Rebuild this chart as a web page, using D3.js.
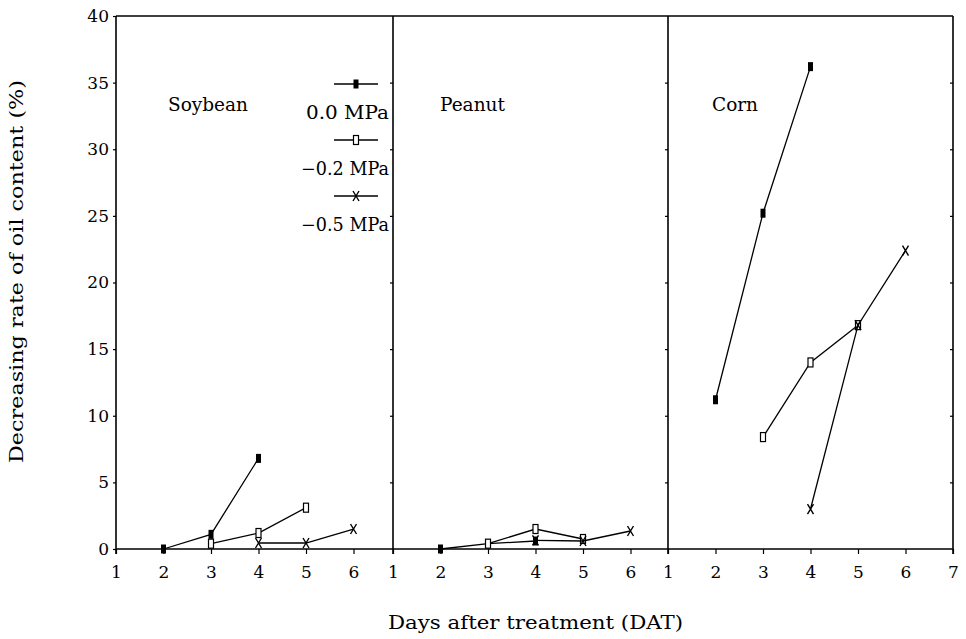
<!DOCTYPE html>
<html>
<head>
<meta charset="utf-8">
<script src="https://cdn.jsdelivr.net/npm/d3@7"></script>
<style>
  html, body { margin: 0; padding: 0; background: #fff; }
  text { font-family: "DejaVu Serif", "Liberation Serif", serif; fill: #000; }
</style>
</head>
<body>
<svg id="chart" width="966" height="639"></svg>
<script>
// ---------------- DATA ----------------
const crops = ["Soybean", "Peanut", "Corn"];
const seriesNames = ["0.0 MPa", "\u22120.2 MPa", "\u22120.5 MPa"];
const yTicks = [0, 5, 10, 15, 20, 25, 30, 35, 40];
const xTickDays = [1, 2, 3, 4, 5, 6, 7];

const days_00 = [2, 3, 4];
const days_02 = [3, 4, 5];
const days_05 = [4, 5, 6];

const soybean_00 = [0, 1.1, 6.8];
const soybean_02 = [0.4, 1.2, 3.1];
const soybean_05 = [0.45, 0.45, 1.5];

const peanut_00 = [0, 0.4, 0.6];
const peanut_02 = [0.4, 1.5, 0.75];
const peanut_05 = [0.65, 0.6, 1.35];

const corn_00 = [11.2, 25.2, 36.2];
const corn_02 = [8.4, 14.0, 16.8];
const corn_05 = [3.0, 16.8, 22.4];

// ---------------- LAYOUT ----------------
const svg = d3.select("#chart");
const topY = 16, bottomY = 549, rightEdge = 953;
const panelLeft = [116, 393, 668];
const dayW = 47.5;
const y = d3.scaleLinear().domain([0, 40]).range([bottomY, topY]);
const xs = panelLeft.map(l => d3.scaleLinear().domain([1, 7]).range([l, l + 6 * dayW]));
const panelRight = [393, 668, rightEdge];

const dataSets = [
  [soybean_00, soybean_02, soybean_05],
  [peanut_00, peanut_02, peanut_05],
  [corn_00, corn_02, corn_05]
];
const dayArrays = [days_00, days_02, days_05];
const markerTypes = ["filled", "open", "cross"];

function drawMarker(g, type, cx, cy) {
  if (type === "filled") {
    g.append("rect").attr("x", cx - 2.5).attr("y", cy - 4.5).attr("width", 5).attr("height", 9)
      .attr("fill", "#000");
  } else if (type === "open") {
    g.append("rect").attr("x", cx - 2.5).attr("y", cy - 4.5).attr("width", 5).attr("height", 9)
      .attr("fill", "#fff").attr("stroke", "#000").attr("stroke-width", 1.2);
  } else {
    g.append("path").attr("d", `M${cx-3},${cy-5}L${cx+3},${cy+5}M${cx+3},${cy-5}L${cx-3},${cy+5}`)
      .attr("stroke", "#000").attr("stroke-width", 1.4).attr("fill", "none");
  }
}

// frame
const frame = svg.append("g").attr("stroke", "#000").attr("fill", "none");
frame.append("line").attr("x1", panelLeft[0]).attr("x2", rightEdge).attr("y1", topY).attr("y2", topY).attr("stroke-width", 1.6);
frame.append("line").attr("x1", panelLeft[0]).attr("x2", rightEdge).attr("y1", bottomY).attr("y2", bottomY).attr("stroke-width", 1.6);
frame.append("line").attr("x1", panelLeft[0]).attr("x2", panelLeft[0]).attr("y1", topY).attr("y2", bottomY + 5).attr("stroke-width", 1.6);
[393, 668, rightEdge].forEach(xv => {
  frame.append("line").attr("x1", xv).attr("x2", xv).attr("y1", topY).attr("y2", bottomY + 5).attr("stroke-width", 1.6);
});

// y axis (left)
const yAxis = d3.axisLeft(y).tickValues(yTicks).tickSize(3).tickPadding(4).tickFormat(d3.format("d"));
const yg = svg.append("g").attr("transform", `translate(${panelLeft[0]},0)`).call(yAxis);
yg.select(".domain").remove();
yg.selectAll("line").attr("stroke-width", 1.2);
yg.selectAll("text").style("font-family", "DejaVu Serif").style("font-size", "17px").attr("fill", "#000");

// divider ticks
[393, 668, rightEdge].forEach(xv => {
  const g = svg.append("g").attr("transform", `translate(${xv},0)`)
    .call(d3.axisLeft(y).tickValues(yTicks.slice(1, -1)).tickSize(3).tickFormat(""));
  g.select(".domain").remove();
  g.selectAll("line").attr("stroke-width", 1.2);
});

// x axes
crops.forEach((c, i) => {
  const ticks = xTickDays.filter(d => xs[i](d) <= panelRight[i] + 1);
  const ax = d3.axisBottom(xs[i]).tickValues(ticks).tickSize(5).tickPadding(12).tickFormat(d3.format("d"));
  const g = svg.append("g").attr("transform", `translate(0,${bottomY})`).call(ax);
  g.select(".domain").remove();
  g.selectAll("line").attr("stroke-width", 1.2);
  g.selectAll("text").style("font-family", "DejaVu Serif").style("font-size", "17px").attr("fill", "#000");
});

// crop labels
const cropLabelX = [168, 440, 712];
const cropLabelW = [80, 65, 46];
crops.forEach((c, i) => {
  svg.append("text").attr("x", cropLabelX[i]).attr("y", 111).style("font-size", "18px")
    .attr("textLength", cropLabelW[i]).attr("lengthAdjust", "spacingAndGlyphs").text(c);
});

// series
const line = d3.line();
dataSets.forEach((set, pi) => {
  set.forEach((vals, si) => {
    const pts = vals.map((v, k) => [xs[pi](dayArrays[si][k]), y(v)]);
    svg.append("path").attr("d", line(pts)).attr("fill", "none").attr("stroke", "#000").attr("stroke-width", 1.3);
    const mg = svg.append("g");
    pts.forEach(p => drawMarker(mg, markerTypes[si], p[0], p[1]));
  });
});

// legend
const legY = [84, 140, 196];
const legW = [83, 88, 88];
seriesNames.forEach((n, i) => {
  svg.append("line").attr("x1", 334).attr("x2", 378).attr("y1", legY[i]).attr("y2", legY[i])
    .attr("stroke", "#000").attr("stroke-width", 1.3);
  drawMarker(svg.append("g"), markerTypes[i], 356, legY[i]);
  svg.append("text").attr("x", 389 - legW[i]).attr("y", legY[i] + 35)
    .attr("textLength", legW[i]).attr("lengthAdjust", "spacingAndGlyphs")
    .style("font-size", "18px").text(n);
});

// axis titles
svg.append("text").attr("x", 388).attr("y", 629)
  .attr("textLength", 295).attr("lengthAdjust", "spacingAndGlyphs")
  .style("font-size", "18px").text("Days after treatment (DAT)");
svg.append("text").attr("transform", "translate(23,463) rotate(-90)")
  .attr("textLength", 383).attr("lengthAdjust", "spacingAndGlyphs")
  .style("font-size", "18px").text("Decreasing rate of oil content (%)");
</script>
</body>
</html>
